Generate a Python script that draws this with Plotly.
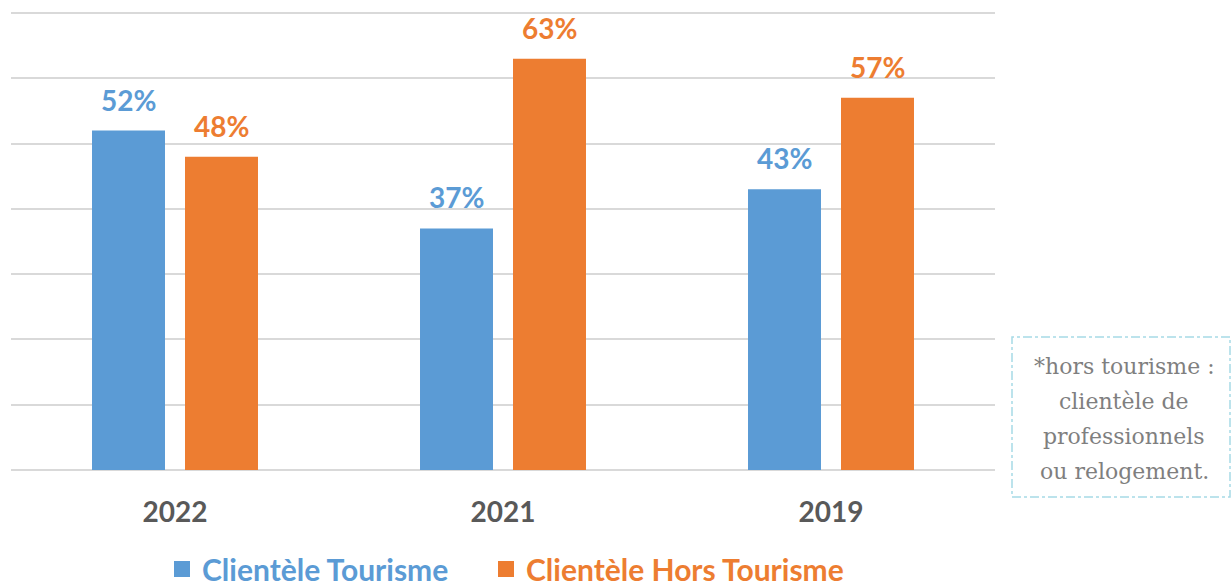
import plotly.graph_objects as go

categories = ["2022", "2021", "2019"]
tourisme = [52, 37, 43]
hors_tourisme = [48, 63, 57]
series_names = ["Clientèle Tourisme", "Clientèle Hors Tourisme"]
note_lines = ["*hors tourisme :", "clientèle de", "professionnels", "ou relogement."]

BLUE = "#5B9BD5"
ORANGE = "#ED7D31"
W, H = 1231, 586
L, R, T, B = 11, 236, 10, 116
plot_w = W - L - R
plot_h = H - T - B
Y_TOP = 70 * plot_h / (H - B - 13)  # so that 70% sits at y=13 px

def px_to_paper_x(px):
    return (px - L) / plot_w

def px_to_paper_y(py):
    return (H - B - py) / plot_h

fig = go.Figure()
for name, vals, col in [(series_names[0], tourisme, BLUE), (series_names[1], hors_tourisme, ORANGE)]:
    fig.add_trace(go.Bar(
        x=categories, y=vals, name=name, showlegend=False,
        marker=dict(color=col, line=dict(width=0)),
        hoverinfo="skip",
    ))
# legend entries with square markers, each in its own legend box
for name, col, lg in [(series_names[0], BLUE, "legend"), (series_names[1], ORANGE, "legend2")]:
    fig.add_trace(go.Scatter(
        x=[categories[0]], y=[None], mode="markers",
        name=f"<span style='color:{col}'><b>{name}</b></span>",
        marker=dict(symbol="square", size=16, color=col), hoverinfo="skip",
        legend=lg,
    ))

# value labels (x given as category index)
slot_half = 46.5
for vals, col, shift in [(tourisme, BLUE, -slot_half), (hors_tourisme, ORANGE, slot_half)]:
    for i, v in enumerate(vals):
        fig.add_annotation(
            x=i, y=v, xref="x", yref="y", text=f"<b>{v}%</b>", showarrow=False,
            xshift=shift, yshift=12, yanchor="bottom",
            font=dict(family="Lato", size=28, color=col),
        )

fig.add_shape(
    type="rect", xref="paper", yref="paper",
    x0=px_to_paper_x(1012), x1=px_to_paper_x(1230),
    y0=px_to_paper_y(497), y1=px_to_paper_y(337),
    line=dict(color="#A6DAE6", width=1.5, dash="dashdot"),
    fillcolor="rgba(0,0,0,0)",
)
for i, line in enumerate(note_lines):
    fig.add_annotation(
        x=px_to_paper_x(1124), y=px_to_paper_y(366 + 35.3 * i), xref="paper", yref="paper",
        text=line, showarrow=False, xanchor="center", yanchor="middle",
        font=dict(family="DejaVu Serif", size=22, color="#7F7F7F"),
    )

legend_common = dict(
    orientation="h", yanchor="middle", y=px_to_paper_y(569),
    font=dict(family="Lato", size=30, color="#595959"),
    itemsizing="trace", bgcolor="rgba(0,0,0,0)",
)
fig.update_layout(
    width=W, height=H,
    margin=dict(l=L, r=R, t=T, b=B, autoexpand=False),
    paper_bgcolor="white", plot_bgcolor="white",
    barmode="group", bargap=0.433, bargroupgap=0.215,
    showlegend=True,
    legend=dict(x=px_to_paper_x(162), xanchor="left", **legend_common),
    legend2=dict(x=px_to_paper_x(486), xanchor="left", **legend_common),
    font=dict(family="Lato"),
)
fig.update_xaxes(
    type="category", automargin=False, range=[-0.5, 2.5],
    showgrid=False, showline=False, ticks="",
    tickfont=dict(family="Lato", size=28, color="#595959"),
    ticklabelstandoff=23,
    tickprefix="<b>", ticksuffix="</b>",
)
fig.update_yaxes(
    range=[0, Y_TOP], tickvals=[0, 10, 20, 30, 40, 50, 60, 70], showticklabels=False, automargin=False,
    showgrid=True, gridcolor="#D9D9D9", gridwidth=2,
    zeroline=True, zerolinecolor="#D9D9D9", zerolinewidth=2,
)

fig.write_html("out.html")
